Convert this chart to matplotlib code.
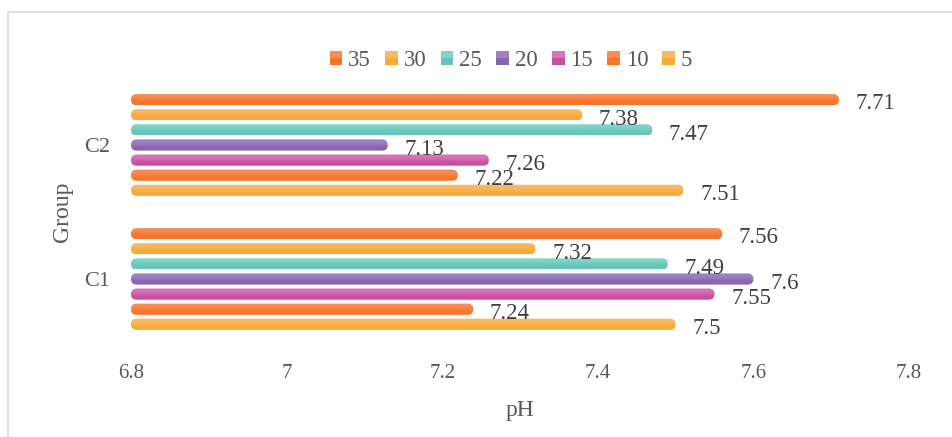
import numpy as np
import matplotlib
matplotlib.use("Agg")
import matplotlib.pyplot as plt
from matplotlib.patches import FancyBboxPatch, Rectangle
from matplotlib.legend_handler import HandlerBase
from matplotlib.colors import to_rgb

# ---- data ----
groups = ["C1", "C2"]
series = ["35", "30", "25", "20", "15", "10", "5"]
ph_c1 = [7.56, 7.32, 7.49, 7.6, 7.55, 7.24, 7.5]
ph_c2 = [7.71, 7.38, 7.47, 7.13, 7.26, 7.22, 7.51]
x_ticks = [6.8, 7.0, 7.2, 7.4, 7.6, 7.8]
x_tick_labels = ["6.8", "7", "7.2", "7.4", "7.6", "7.8"]

# (light top, dark bottom) for each series
palette = {
    "35": ("#F68C56", "#F97429"),
    "30": ("#F4BA68", "#F9AA35"),
    "25": ("#80D5C8", "#64C6B8"),
    "20": ("#9E82C1", "#8565B0"),
    "15": ("#D874BA", "#CA4E9E"),
    "10": ("#F68C56", "#F97429"),
    "5":  ("#F4BA68", "#F9AA35"),
}

FONT = "Liberation Serif"
TXT = "#595959"
LBL = "#404040"

W, H = 952, 437
fig = plt.figure(figsize=(W / 100, H / 100), dpi=100)

# light frame around the chart area
fig.add_artist(Rectangle((8 / W, -0.05), 1.1, 1 - 12 / H + 0.05,
                         transform=fig.transFigure, fill=False,
                         edgecolor="#D9D9D9", linewidth=1.2, zorder=0))

ax = fig.add_axes([131 / W, (H - 346) / H, 778 / W, 268 / H])
ax.set_xlim(6.8, 7.8)
ax.set_ylim(-0.5, 1.5)
for s in ax.spines.values():
    s.set_visible(False)

slot = 15.1 / 134.0
bar_h = 11.2 / 134.0
n = len(series)

# pixel scale of each data unit, used to keep round caps circular
px_x = 778.0 / 1.0
px_y = 268.0 / 2.0
aspect = px_x / px_y          # y-units per x-unit at equal pixel length
radius = (bar_h * px_y / 2.0) / px_x


def gradient(light, dark, rows=64):
    t = np.linspace(0, 1, rows)
    w = 1 / (1 + np.exp(-(t - 0.5) * 10))
    l = np.array(to_rgb(light))
    d = np.array(to_rgb(dark))
    g = (1 - w)[:, None] * l + w[:, None] * d
    return g[:, None, :]


x0 = 6.8
for gi, vals in enumerate([ph_c1, ph_c2]):
    for si, (name, v) in enumerate(zip(series, vals)):
        yc = gi + (n - 1) / 2 * slot - si * slot
        light, dark = palette[name]
        patch = FancyBboxPatch((x0, yc - bar_h / 2), v - x0, bar_h,
                               boxstyle=f"round,pad=0,rounding_size={radius}",
                               mutation_aspect=aspect,
                               facecolor="none", edgecolor="none", zorder=2)
        ax.add_patch(patch)
        im = ax.imshow(gradient(light, dark),
                       extent=[x0, v, yc - bar_h / 2, yc + bar_h / 2],
                       aspect="auto", interpolation="bilinear", zorder=2)
        im.set_clip_path(patch)
        ax.annotate(f"{v:g}", xy=(v, yc), xytext=(12.0, -7.0),
                    textcoords="offset points", ha="left", va="baseline",
                    fontsize=16.5, family=FONT, color=LBL, zorder=3)

ax.set_xlim(6.8, 7.8)
ax.set_ylim(-0.5, 1.5)
ax.set_xticks(x_ticks)
ax.set_xticklabels(x_tick_labels, family=FONT, fontsize=15, color=TXT)
ax.set_yticks([0, 1])
ax.set_yticklabels(groups, family=FONT, fontsize=16, color=TXT)
ax.tick_params(axis="x", length=0, pad=13)
ax.tick_params(axis="y", length=0, pad=15)
ax.set_xlabel("pH", family=FONT, fontsize=17, color=TXT, labelpad=12)
ax.set_ylabel("Group", family=FONT, fontsize=17, color=TXT, labelpad=8)


class GradientSquare(HandlerBase):
    def create_artists(self, legend, orig_handle, xdescent, ydescent,
                       width, height, fontsize, trans):
        light, dark = orig_handle
        top = Rectangle((-xdescent, -ydescent + height / 2), width, height / 2,
                        facecolor=light, edgecolor="none", transform=trans)
        bot = Rectangle((-xdescent, -ydescent), width, height / 2,
                        facecolor=dark, edgecolor="none", transform=trans)
        return [bot, top]


handles = [palette[s] for s in series]
leg = ax.legend(handles, series, handler_map={tuple: GradientSquare()},
                ncol=n, loc="center", bbox_to_anchor=(511 / W, 1 - 61 / H),
                bbox_transform=fig.transFigure, frameon=False,
                prop={"family": FONT, "size": 16.5},
                handlelength=0.56, handleheight=0.56, handletextpad=0.25,
                columnspacing=0.62, borderaxespad=0)
for t in leg.get_texts():
    t.set_color(TXT)

fig.savefig("out.png", dpi=100)
